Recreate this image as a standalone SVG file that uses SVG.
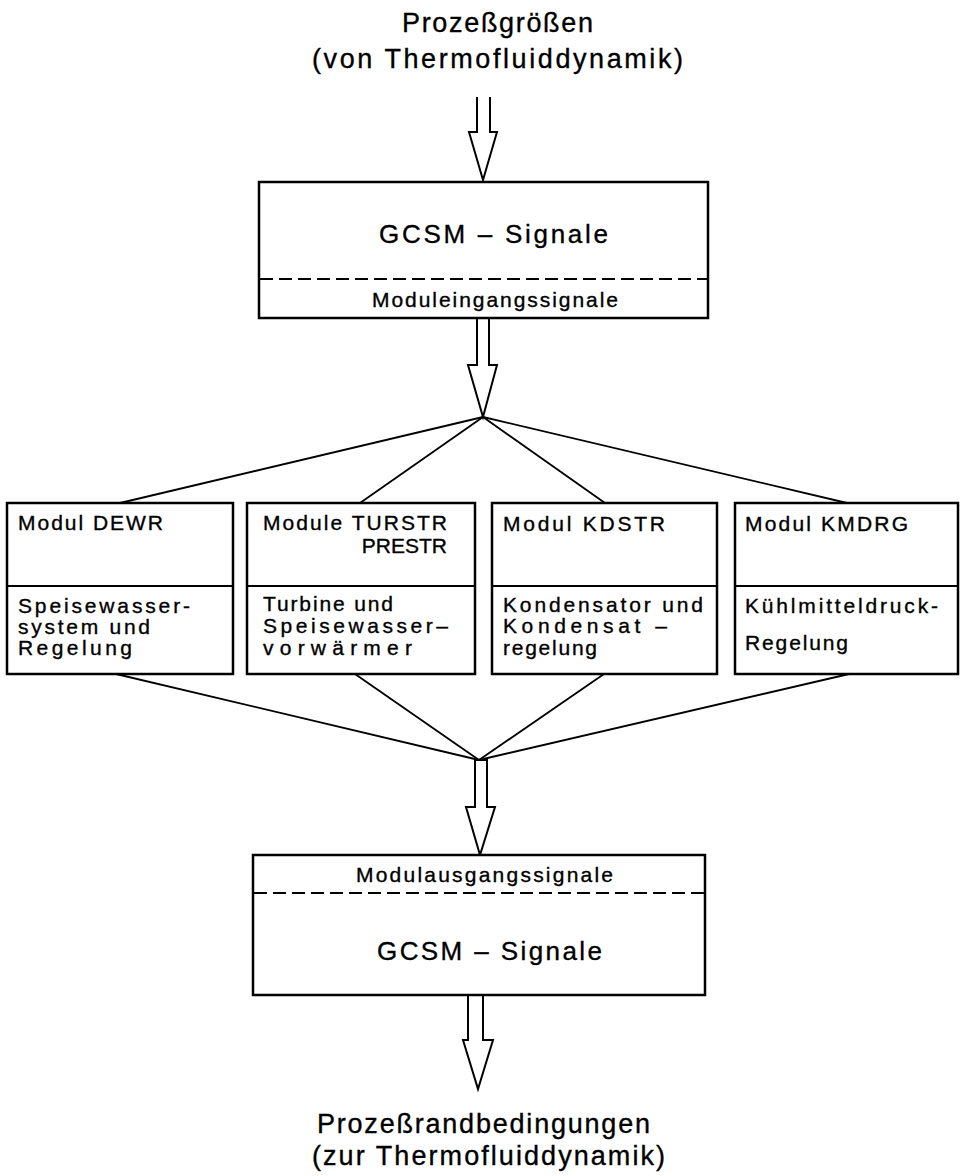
<svg xmlns="http://www.w3.org/2000/svg" width="961" height="1176" viewBox="0 0 961 1176">
<style>
text{font-family:"Liberation Sans",Arial,sans-serif;fill:#000;stroke:#000;stroke-width:0.35}
.t{font-size:27px}
.g{font-size:26px}
.s{font-size:21px}
.m{font-size:21px}
.box{fill:#fff;stroke:#000;stroke-width:2.5}
.div{stroke:#000;stroke-width:1.8}
.dash{stroke:#000;stroke-width:2;stroke-dasharray:13 6}
.ln{stroke:#000;stroke-width:1.8;fill:none}
.ar{stroke:#000;stroke-width:2;fill:#fff;stroke-linejoin:miter}
</style>
<g id="title-top">
<text class="t" x="402" y="32" textLength="191" lengthAdjust="spacing">Prozeßgrößen</text>
<text class="t" x="312" y="68" textLength="371" lengthAdjust="spacing">(von Thermofluiddynamik)</text>
</g>
<g id="connectors">
<polyline class="ar" points="477,97 477,132 469,132 483,180 497,132 490,132 490,97"/>
<polyline class="ar" points="477,318 477,365 468,365 483,417 497,365 489,365 489,318"/>
<line class="ln" x1="483" y1="417" x2="120" y2="503"/>
<line class="ln" x1="483" y1="417" x2="360" y2="503"/>
<line class="ln" x1="483" y1="417" x2="605" y2="503"/>
<line class="ln" x1="483" y1="417" x2="847" y2="503"/>
<line class="ln" x1="116" y1="674" x2="479" y2="760"/>
<line class="ln" x1="355" y1="674" x2="479" y2="760"/>
<line class="ln" x1="604" y1="674" x2="479" y2="760"/>
<line class="ln" x1="849" y1="674" x2="479" y2="760"/>
<polygon class="ar" points="475,760 475,807 466,807 480,855 495,807 487,807 487,760"/>
<polyline class="ar" points="468,995 468,1040 463,1040 478,1089 493,1040 483,1040 483,995"/>
</g>
<g id="gcsm-in">
<rect class="box" x="259" y="182" width="449" height="136"/>
<line class="dash" x1="260" y1="279" x2="707" y2="279"/>
<text class="g" x="379" y="243" textLength="229" lengthAdjust="spacing">GCSM – Signale</text>
<text class="m" x="372" y="307" textLength="246" lengthAdjust="spacing">Moduleingangssignale</text>
</g>
<g id="dewr">
<rect class="box" x="7" y="503" width="226" height="171"/>
<line class="div" x1="7" y1="586" x2="233" y2="586"/>
<text class="s" x="18" y="530" textLength="145" lengthAdjust="spacing">Modul DEWR</text>
<text class="s" x="18" y="613" textLength="172" lengthAdjust="spacing">Speisewasser-</text>
<text class="s" x="18" y="634" textLength="132" lengthAdjust="spacing">system und</text>
<text class="s" x="18" y="655" textLength="114" lengthAdjust="spacing">Regelung</text>
</g>
<g id="turstr">
<rect class="box" x="247" y="503" width="228" height="171"/>
<line class="div" x1="247" y1="586" x2="475" y2="586"/>
<text class="s" x="263" y="530" textLength="184" lengthAdjust="spacing">Module TURSTR</text>
<text class="s" x="447" y="553" text-anchor="end">PRESTR</text>
<text class="s" x="263" y="611" textLength="130" lengthAdjust="spacing">Turbine und</text>
<text class="s" x="263" y="633" textLength="185" lengthAdjust="spacing">Speisewasser–</text>
<text class="s" x="263" y="655" textLength="149" lengthAdjust="spacing">vorwärmer</text>
</g>
<g id="kdstr">
<rect class="box" x="492" y="503" width="225" height="171"/>
<line class="div" x1="492" y1="586" x2="717" y2="586"/>
<text class="s" x="503" y="531" textLength="162" lengthAdjust="spacing">Modul KDSTR</text>
<text class="s" x="503" y="612" textLength="200" lengthAdjust="spacing">Kondensator und</text>
<text class="s" x="503" y="633" textLength="164" lengthAdjust="spacing">Kondensat –</text>
<text class="s" x="503" y="655" textLength="94" lengthAdjust="spacing">regelung</text>
</g>
<g id="kmdrg">
<rect class="box" x="735" y="503" width="223" height="171"/>
<line class="div" x1="735" y1="586" x2="958" y2="586"/>
<text class="s" x="745" y="531" textLength="163" lengthAdjust="spacing">Modul KMDRG</text>
<text class="s" x="745" y="613" textLength="193" lengthAdjust="spacing">Kühlmitteldruck-</text>
<text class="s" x="745" y="650" textLength="103" lengthAdjust="spacing">Regelung</text>
</g>
<g id="gcsm-out">
<rect class="box" x="253" y="855" width="452" height="140"/>
<line class="dash" x1="254" y1="893" x2="704" y2="893"/>
<text class="m" x="356" y="882" textLength="257" lengthAdjust="spacing">Modulausgangssignale</text>
<text class="g" x="377" y="960" textLength="225" lengthAdjust="spacing">GCSM – Signale</text>
</g>
<g id="title-bottom">
<text class="t" x="317" y="1133" textLength="333" lengthAdjust="spacing">Prozeßrandbedingungen</text>
<text class="t" x="312" y="1165" textLength="353" lengthAdjust="spacing">(zur Thermofluiddynamik)</text>
</g>
</svg>
